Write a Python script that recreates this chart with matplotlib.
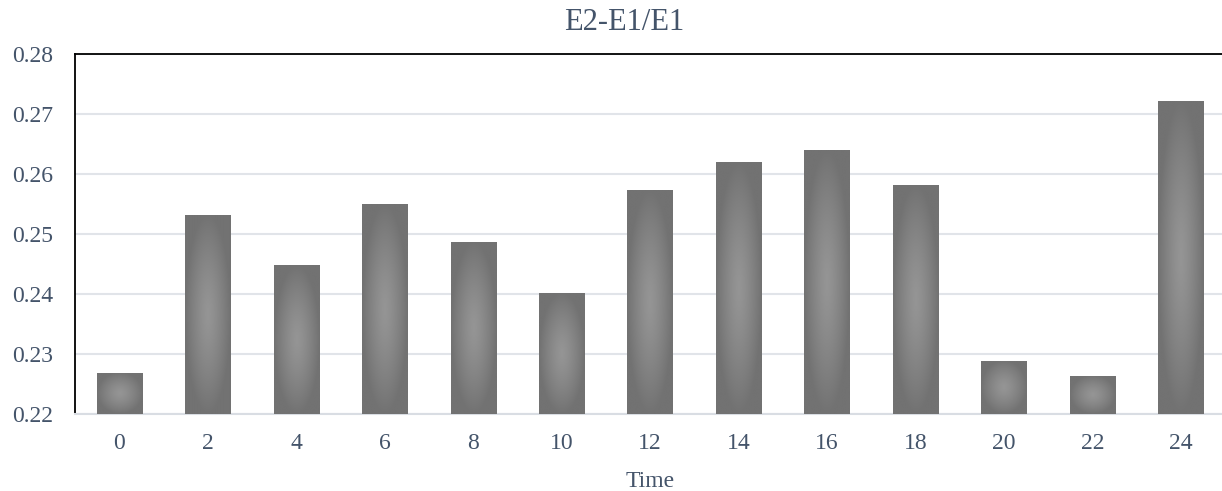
import numpy as np
import matplotlib
matplotlib.use("Agg")
import matplotlib.pyplot as plt

plt.rcParams["font.family"] = ["Liberation Serif", "DejaVu Serif"]

times = ["0", "2", "4", "6", "8", "10", "12", "14", "16", "18", "20", "22", "24"]
ratios = [0.2269, 0.2532, 0.2448, 0.2550, 0.2487, 0.2402, 0.2573,
          0.2620, 0.2640, 0.2582, 0.2289, 0.2264, 0.2722]

y_min, y_max = 0.22, 0.28
label_color = "#44546a"

fig = plt.figure(figsize=(12.22, 4.91), dpi=100)
ax = fig.add_axes([75 / 1222, 1 - 414 / 491, 1150 / 1222, 360 / 491])

x = np.arange(len(times))
bars = ax.bar(x, np.array(ratios) - y_min, bottom=y_min, width=0.51,
              facecolor="none", edgecolor="none", zorder=3)

# radial shading inside each bar: light centre, darker rim
gy, gx = np.mgrid[-1:1:200j, -1:1:60j]
r = np.clip(np.sqrt(gx ** 2 + gy ** 2), 0, 1)
shade = 0x95 / 255 - (0x95 - 0x72) / 255 * r ** 1.3
rgb = np.dstack([shade, shade, shade])
for b in bars:
    x0, w = b.get_x(), b.get_width()
    y0, h = b.get_y(), b.get_height()
    im = ax.imshow(rgb, extent=(x0, x0 + w, y0, y0 + h), aspect="auto",
                   interpolation="bilinear", zorder=3)
    im.set_clip_path(b)

ax.set_xlim(-0.5, len(times) - 0.5)
ax.set_ylim(y_min, y_max)
ticks = np.arange(0.22, 0.2801, 0.01)
ax.set_yticks(ticks)
ax.set_yticklabels([f"{v:.2f}" for v in ticks])
ax.set_xticks(x)
ax.set_xticklabels(times)

ax.yaxis.grid(True, color="#e1e4e9", linewidth=1.5, zorder=0)
ax.set_axisbelow(True)
ax.tick_params(axis="both", length=0, labelsize=17, labelcolor=label_color)
ax.tick_params(axis="y", pad=16)
ax.tick_params(axis="x", pad=14)

for side in ["left", "top"]:
    ax.spines[side].set_color("black")
    ax.spines[side].set_linewidth(1.3)
ax.spines["right"].set_visible(False)
ax.spines["bottom"].set_color("#d9dde3")
ax.spines["bottom"].set_linewidth(1.5)

ax.set_xlabel("Time", fontsize=17, color=label_color, labelpad=12)
fig.text(624 / 1222, 1 - 30 / 491, "E2-E1/E1", ha="center", va="baseline",
         fontsize=22, color=label_color)

fig.savefig("out.png", dpi=100)
